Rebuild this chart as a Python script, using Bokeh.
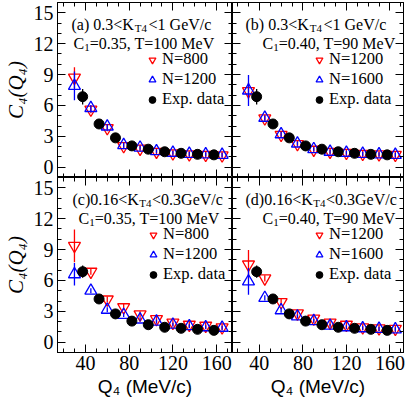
from bokeh.plotting import figure
from bokeh.layouts import gridplot
from bokeh.models import Range1d, LinearAxis, SingleIntervalTicker, Label, Legend, LegendItem
from bokeh.embed import file_html
from bokeh.resources import INLINE

# ---------------- data ----------------
q_model = [30, 45, 60, 75, 90, 105, 120, 135, 150, 165]
q_exp = [37.5, 52.5, 67.5, 82.5, 97.5, 112.5, 127.5, 142.5, 157.5]

exp_high = [6.85, 4.2, 2.85, 2.07, 1.75, 1.5, 1.35, 1.25, 1.2]
exp_high_err = [0.75, 0.15, 0.1, 0.08, 0.06, 0.05, 0.05, 0.05, 0.05]
exp_low = [6.85, 4.2, 2.75, 2.05, 1.7, 1.45, 1.35, 1.25, 1.15]
exp_low_err = [0.6, 0.15, 0.1, 0.08, 0.06, 0.05, 0.05, 0.05, 0.05]

a_n800 = [8.7, 5.6, 3.8, 2.05, 1.8, 1.5, 1.35, 1.25, 1.2, 1.15]
a_n800_err = [1.0, 0.35, 0.3, 0.3, 0.3, 0.3, 0.3, 0.3, 0.3, 0.3]
a_n1200 = [7.9, 5.75, 3.95, 2.15, 1.9, 1.55, 1.4, 1.3, 1.25, 1.2]
a_n1200_err = [1.4, 0.3, 0.25, 0.25, 0.2, 0.2, 0.2, 0.2, 0.2, 0.2]

b_n1200 = [7.4, 4.75, 3.15, 2.25, 1.7, 1.5, 1.4, 1.3, 1.25, 1.2]
b_n1200_err = [0.8, 0.3, 0.3, 0.3, 0.3, 0.3, 0.3, 0.3, 0.3, 0.3]
b_n1600 = [7.45, 4.8, 3.2, 2.3, 1.75, 1.5, 1.4, 1.3, 1.25, 1.2]
b_n1600_err = [1.5, 0.25, 0.25, 0.2, 0.2, 0.2, 0.2, 0.2, 0.2, 0.2]

c_n800 = [9.36, 6.85, 4.15, 3.4, 2.7, 2.25, 1.9, 1.7, 1.6, 1.45]
c_n800_err = [1.6, 0.3, 0.3, 0.3, 0.3, 0.3, 0.3, 0.3, 0.3, 0.3]
c_n1200 = [6.6, 5.0, 3.15, 2.65, 2.2, 2.0, 1.7, 1.55, 1.45, 1.4]
c_n1200_err = [1.1, 0.25, 0.25, 0.2, 0.2, 0.2, 0.2, 0.2, 0.2, 0.2]

d_n1200 = [7.55, 6.2, 3.9, 2.8, 2.3, 1.9, 1.7, 1.45, 1.35, 1.3]
d_n1200_err = [1.4, 0.3, 0.3, 0.3, 0.3, 0.3, 0.3, 0.3, 0.3, 0.3]
d_n1600 = [5.9, 4.3, 3.1, 2.5, 2.05, 1.6, 1.45, 1.35, 1.3, 1.25]
d_n1600_err = [1.3, 0.25, 0.25, 0.2, 0.2, 0.2, 0.2, 0.2, 0.2, 0.2]

x_tick_interval = 40
y_tick_interval = 3

# ---------------- helpers ----------------
SERIF = "Liberation Serif"
SANS = "Liberation Sans"
TW = {'(': 333, ')': 333, 'a': 444, 'b': 500, 'c': 444, 'd': 500, ' ': 250, '.': 250,
      '<': 564, 'K': 722, 'T': 611, 'G': 722, 'e': 444, 'V': 722, '/': 278, 'C': 667,
      '=': 564, ',': 250, 'M': 889}


def twidth(s, size):
    return sum(TW.get(ch, 500) for ch in s) * size / 1000.0


def style_axis(ax, interval, nminor, show, size="20px"):
    ax.ticker = SingleIntervalTicker(interval=interval, num_minor_ticks=nminor)
    ax.major_tick_in = 8
    ax.major_tick_out = 0
    ax.minor_tick_in = 4
    ax.minor_tick_out = 0
    ax.axis_line_color = "black"
    ax.major_tick_line_color = "black"
    ax.minor_tick_line_color = "black"
    if show:
        ax.major_label_text_font = SERIF
        ax.major_label_text_font_size = size
        ax.major_label_text_color = "black"
        ax.major_label_standoff = 4
    else:
        ax.major_label_text_font_size = "0px"
        ax.major_label_text_color = None
        ax.major_label_standoff = 0


def place_pieces(p, fh, pieces, x0, base_top, right=None):
    total = 0
    for txt, size, dy, gap in pieces:
        total += gap + twidth(txt, size)
    x = x0 if right is None else right - total
    for txt, size, dy, gap in pieces:
        x += gap
        p.add_layout(Label(x=x, y=fh - base_top - dy, x_units="screen", y_units="screen",
                           text=txt, text_font=SERIF, text_font_size=f"{size}px",
                           text_baseline="alphabetic", text_align="left", text_color="black"))
        x += twidth(txt, size)


FH = 175
XR_L = (14.5, 174.5)
XR_R = (15.3, 172.5)


def make_panel(fw, xr, left_labels, bottom_labels, top, panel):
    p = figure(frame_width=fw, frame_height=FH, x_range=Range1d(*xr), y_range=Range1d(-1, 16),
               output_backend="svg", toolbar_location=None,
               min_border_left=53 if left_labels else 0,
               min_border_right=3 if not left_labels else 0,
               min_border_top=2 if top else 0,
               min_border_bottom=0 if top else 46)
    p.xgrid.visible = False
    p.ygrid.visible = False
    p.outline_line_color = "black"
    p.outline_line_width = 1
    xb = p.below[0]
    yl = p.left[0]
    style_axis(xb, x_tick_interval, 4, bottom_labels, "20px")
    style_axis(yl, y_tick_interval, 3, left_labels, "20px")
    ra = LinearAxis()
    style_axis(ra, y_tick_interval, 3, False)
    p.add_layout(ra, "right")
    ta = LinearAxis()
    style_axis(ta, x_tick_interval, 4, False)
    p.add_layout(ta, "above")
    if left_labels:
        yl.axis_label = "C\u2084(Q\u2084)"
        yl.axis_label_text_font = SERIF
        yl.axis_label_text_font_style = "italic"
        yl.axis_label_text_font_size = "21px"
        yl.axis_label_standoff = 3
        yl.axis_label_text_color = "black"
    if bottom_labels:
        xb.major_label_standoff = 3
        xb.axis_label = "Q\u2084 (MeV/c)"
        xb.axis_label_text_font = SANS
        xb.axis_label_text_font_style = "normal"
        xb.axis_label_text_font_size = "19px"
        xb.axis_label_standoff = 3
        xb.axis_label_text_color = "black"

    red, blue = panel["red"], panel["blue"]
    ex, exe = panel["exp"], panel["exp_err"]
    p.segment(x0=q_model, y0=[v - e for v, e in zip(red[0], red[1])], x1=q_model,
              y1=[v + e for v, e in zip(red[0], red[1])], line_color="red", line_width=1.3)
    r_red = p.scatter(q_model, red[0], marker="inverted_triangle", size=12, line_color="red",
                      fill_color=None, line_width=1.3)
    p.segment(x0=q_model, y0=[v - e for v, e in zip(blue[0], blue[1])], x1=q_model,
              y1=[v + e for v, e in zip(blue[0], blue[1])], line_color="blue", line_width=1.3)
    r_blue = p.scatter(q_model, blue[0], marker="triangle", size=12, line_color="blue",
                       fill_color=None, line_width=1.3)
    p.segment(x0=q_exp, y0=[v - e for v, e in zip(ex, exe)], x1=q_exp,
              y1=[v + e for v, e in zip(ex, exe)], line_color="black", line_width=1.3)
    r_exp = p.scatter(q_exp, ex, marker="circle", size=10, line_color="black", fill_color="black")

    legend = Legend(items=[LegendItem(label=panel["labels"][0], renderers=[r_red]),
                           LegendItem(label=panel["labels"][1], renderers=[r_blue]),
                           LegendItem(label="Exp. data", renderers=[r_exp])],
                    location=(panel["leg_x"], 68), orientation="vertical",
                    background_fill_alpha=0, border_line_color=None,
                    label_text_font=SERIF, label_text_font_size="16.5px", label_text_color="black",
                    label_text_line_height=0.9,
                    glyph_width=18, glyph_height=17, label_height=17, spacing=0,
                    padding=0, margin=0, label_standoff=1)
    p.add_layout(legend)

    place_pieces(p, FH, panel["line1"], panel["l1x"], 21.5)
    place_pieces(p, FH, panel["line2"], 0, 40.5, right=fw - panel["l2r"])
    return p


def line1(tag, lo, hi, tight):
    if tight:
        return [(f"({tag}){lo}<K", 16, 0, 0), ("T4", 11, 4, 0.5), (f"<{hi}GeV/c", 16, 0, 0.5)]
    return [(f"({tag}) {lo}<K", 16, 0, 0), ("T4", 11, 4, 1.0), (f"<1 GeV/c", 16, 0, 1.5)]


def line2(c1, t):
    return [("C", 16, 0, 0), ("1", 11, 4, 0), (f"={c1}, T={t} MeV", 16, 0, 0)]


panels = {
    "a": dict(red=(a_n800, a_n800_err), blue=(a_n1200, a_n1200_err), exp=exp_high,
              exp_err=exp_high_err, labels=("N=800", "N=1200"), leg_x=86,
              line1=line1("a", "0.3", "1", False), l1x=14, line2=line2("0.35", "100"), l2r=18),
    "b": dict(red=(b_n1200, b_n1200_err), blue=(b_n1600, b_n1600_err), exp=exp_high,
              exp_err=exp_high_err, labels=("N=1200", "N=1600"), leg_x=78,
              line1=line1("b", "0.3", "1", False), l1x=13, line2=line2("0.40", "90"), l2r=8),
    "c": dict(red=(c_n800, c_n800_err), blue=(c_n1200, c_n1200_err), exp=exp_low,
              exp_err=exp_low_err, labels=("N=800", "N=1200"), leg_x=87,
              line1=line1("c", "0.16", "0.3", True), l1x=15, line2=line2("0.35", "100"), l2r=13),
    "d": dict(red=(d_n1200, d_n1200_err), blue=(d_n1600, d_n1600_err), exp=exp_low,
              exp_err=exp_low_err, labels=("N=1200", "N=1600"), leg_x=78,
              line1=line1("d", "0.16", "0.3", True), l1x=13, line2=line2("0.40", "90"), l2r=8),
}

pa = make_panel(175, XR_L, True, False, True, panels["a"])
pb = make_panel(171, XR_R, False, False, True, panels["b"])
pc = make_panel(175, XR_L, True, True, False, panels["c"])
pd = make_panel(171, XR_R, False, True, False, panels["d"])

grid = gridplot([[pa, pb], [pc, pd]], toolbar_location=None)

open("out.html", "w").write(file_html(grid, INLINE))
